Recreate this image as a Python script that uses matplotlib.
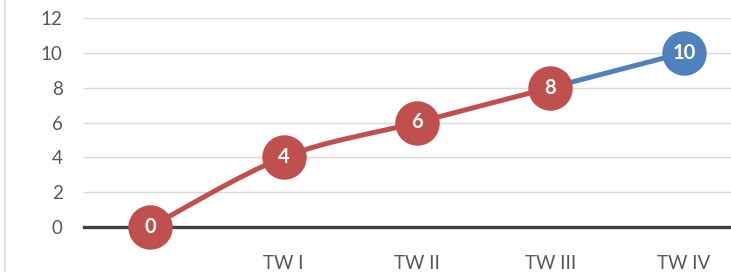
import numpy as np
import matplotlib.pyplot as plt
from matplotlib.path import Path
from matplotlib.patches import PathPatch
from matplotlib.lines import Line2D

categories = ["", "TW I", "TW II", "TW III", "TW IV"]
red_values = [0, 4, 6, 8]          # first series (smoothed)
blue_values = [8, 10]              # second series, TW III -> TW IV
blue_start = 3

RED = "#C0504D"
BLUE = "#4F81BD"

plt.rcParams['font.family'] = ['Lato', 'DejaVu Sans']


def smooth_path(xs, ys):
    # Excel-like smoothed line: cubic bezier with catmull-rom control points
    pts = np.column_stack([xs, ys]).astype(float)
    n = len(pts)
    verts = [pts[0]]
    codes = [Path.MOVETO]
    for i in range(n - 1):
        p0 = pts[i - 1] if i > 0 else pts[i]
        p1 = pts[i]
        p2 = pts[i + 1]
        p3 = pts[i + 2] if i + 2 < n else pts[i + 1]
        c1 = p1 + (p2 - p0) / 6.0
        c2 = p2 - (p3 - p1) / 6.0
        verts += [c1, c2, p2]
        codes += [Path.CURVE4] * 3
    return Path(verts, codes)


fig = plt.figure(figsize=(7.31, 2.72), dpi=100)
ax = fig.add_axes([83.5 / 731, 45 / 272, 667 / 731, 209 / 272])

ax.set_xlim(-0.5, len(categories) - 0.5)
ax.set_ylim(0, 12)
ax.set_yticks(range(0, 13, 2))
ax.set_xticks(range(len(categories)))
ax.set_xticklabels(categories)
ax.tick_params(length=0, labelsize=13.5, labelcolor="#595959")
ax.tick_params(axis='y', pad=15)
ax.tick_params(axis='x', pad=20)
for s in ax.spines.values():
    s.set_visible(False)
ax.grid(axis='y', color="#d9d9d9", linewidth=1)
ax.set_axisbelow(True)
ax.axhline(0, color="#404040", linewidth=2.4, zorder=2, clip_on=False)

xr = np.arange(len(red_values))
xb = np.arange(blue_start, blue_start + len(blue_values))

ax.add_patch(PathPatch(smooth_path(xr, red_values), facecolor='none',
                       edgecolor=RED, linewidth=3.6, zorder=3, capstyle='round'))
ax.add_patch(PathPatch(smooth_path(xb, blue_values), facecolor='none',
                       edgecolor=BLUE, linewidth=3.6, zorder=3, capstyle='round'))

ax.plot(xb[-1:], blue_values[-1:], 'o', ms=32, color=BLUE, mec='none',
        zorder=4, clip_on=False)
ax.plot(xr, red_values, 'o', ms=32, color=RED, mec='none', zorder=5, clip_on=False)

for x, v in zip(xr, red_values):
    ax.text(x, v, str(v), color='white', fontsize=14.5, fontweight='bold',
            ha='center', va='center', zorder=6)
ax.text(xb[-1], blue_values[-1], str(blue_values[-1]), color='white', fontsize=14.5,
        fontweight='bold', ha='center', va='center', zorder=6)

fig.add_artist(Line2D([4.5 / 731, 4.5 / 731], [0, 1], color="#d9d9d9", linewidth=1.2))

fig.savefig("out.png", dpi=100)
